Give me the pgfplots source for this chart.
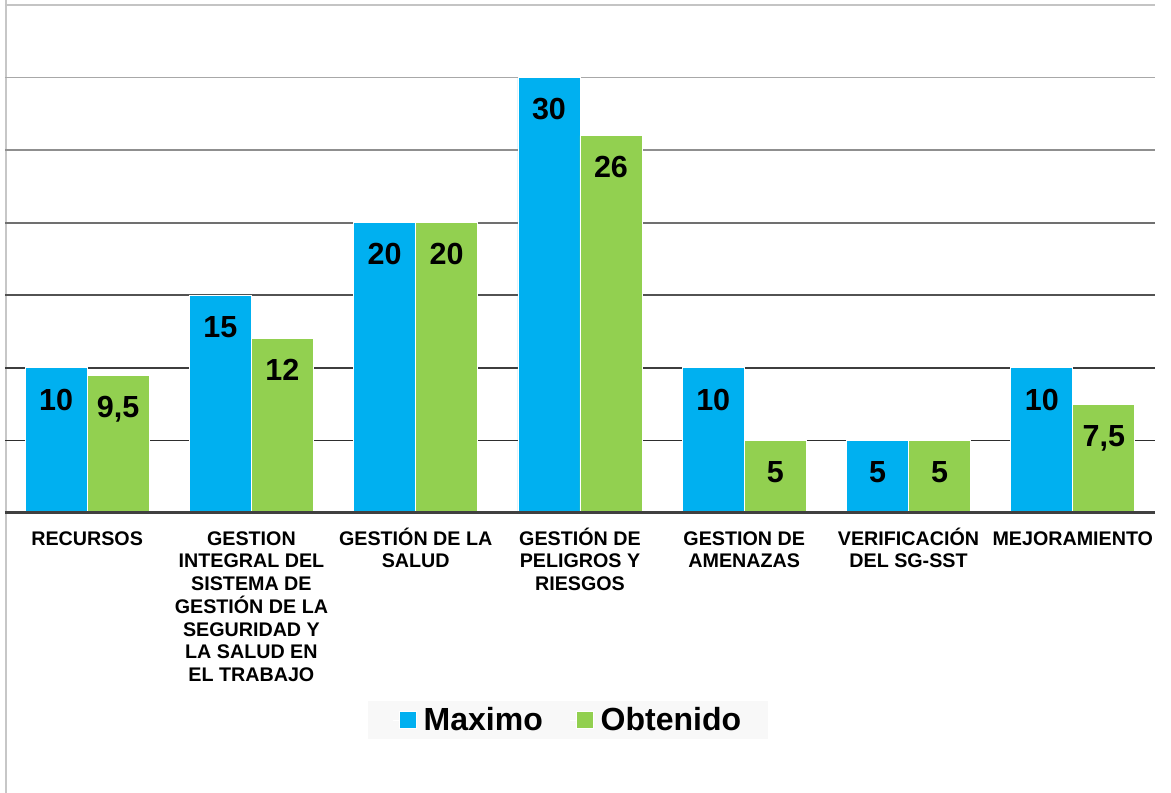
\documentclass[border=0pt]{standalone}
\usepackage{fontspec}
\setmainfont{Liberation Sans}
\usepackage{pgfplots}
\pgfplotsset{compat=1.18}
\definecolor{cmax}{HTML}{00B0F0}
\definecolor{cobt}{HTML}{92D050}
\definecolor{legbg}{HTML}{F8F8F8}
\begin{document}
\begin{tikzpicture}
\path[use as bounding box] (0pt,0pt) rectangle (1171pt,793pt);
\draw[color=black!22, line width=2pt] (6pt,0pt) -- (6pt,793pt);
\begin{axis}[
  at={(5pt,280pt)}, anchor=south west,
  scale only axis, width=1150pt, height=508pt,
  xmin=-0.5, xmax=6.5, ymin=0, ymax=35,
  axis line style={draw=none},
  ytick=\empty,
  xtick={0,1,2,3,4,5,6},
  major tick length=0pt,
  xticklabels={
    {\rule{0pt}{19pt}RECURSOS},
    {\rule{0pt}{19pt}GESTION\\INTEGRAL DEL\\SISTEMA DE\\GESTIÓN DE LA\\SEGURIDAD Y\\LA SALUD EN\\EL TRABAJO},
    {\rule{0pt}{19pt}GESTIÓN DE LA\\SALUD},
    {\rule{0pt}{19pt}GESTIÓN DE\\PELIGROS Y\\RIESGOS},
    {\rule{0pt}{19pt}GESTION DE\\AMENAZAS},
    {\rule{0pt}{19pt}VERIFICACIÓN\\DEL SG-SST},
    {\rule{0pt}{19pt}MEJORAMIENTO}},
  xticklabel style={font=\bfseries\fontsize{19.7}{22.7}\selectfont, align=center, anchor=north, yshift=-9.7pt},
  ybar=0pt, bar width=62pt,
  nodes near coords,
  every node near coord/.append style={font=\bfseries\fontsize{30.5}{36}\selectfont, anchor=center, yshift=-31.5pt, text depth=0pt, color=black},
  /pgf/number format/.cd, use comma, fixed, precision=1, 1000 sep={}, assume math mode=true,
  /pgfplots/.cd,
  clip=false,
  legend columns=2,
  legend style={at={(0.4896,-0.4075)}, anchor=center, draw=none, fill=legbg,
    font=\bfseries\fontsize{32}{36}\selectfont, inner xsep=25pt, inner ysep=5pt,
    /tikz/every odd column/.append style={column sep=5pt},
    /tikz/every even column/.append style={column sep=25pt}},
  legend image code/.code={\path (-6pt,0pt) -- (0pt,0pt);\fill[#1] (0pt,-8.5pt) rectangle (17pt,8.5pt);},
]
\draw[color=black!23, line width=1.6pt] (axis cs:-0.5,35) -- (axis cs:6.5,35);
\draw[color=black!34, line width=1.6pt] (axis cs:-0.5,30) -- (axis cs:6.5,30);
\draw[color=black!44, line width=1.6pt] (axis cs:-0.5,25) -- (axis cs:6.5,25);
\draw[color=black!56, line width=1.6pt] (axis cs:-0.5,20) -- (axis cs:6.5,20);
\draw[color=black!68, line width=1.6pt] (axis cs:-0.5,15) -- (axis cs:6.5,15);
\draw[color=black!76, line width=1.6pt] (axis cs:-0.5,10) -- (axis cs:6.5,10);
\draw[color=black!82, line width=1.6pt] (axis cs:-0.5,5) -- (axis cs:6.5,5);
\addplot[fill=cmax, draw=white, line width=0.8pt] coordinates {(0,10) (1,15) (2,20) (3,30) (4,10) (5,5) (6,10)};
\addplot[fill=cobt, draw=white, line width=0.8pt] coordinates {(0,9.5) (1,12) (2,20) (3,26) (4,5) (5,5) (6,7.5)};
\draw[color=black!75, line width=3pt] (axis cs:-0.5,0) -- (axis cs:6.5,0);
\addlegendentry{Maximo}
\addlegendentry{Obtenido}
\end{axis}
\end{tikzpicture}
\end{document}
